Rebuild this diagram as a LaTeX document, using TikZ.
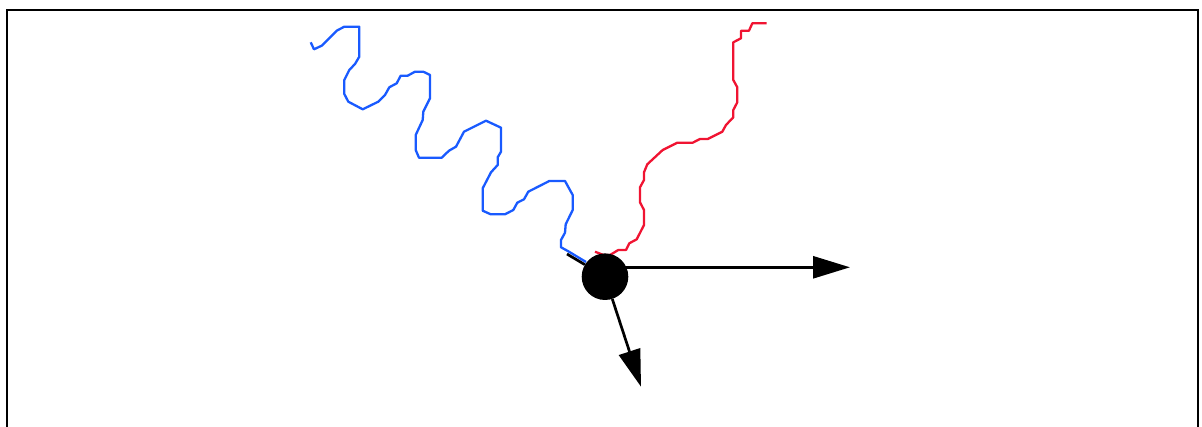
\documentclass[tikz,border=0pt]{standalone}
\usepackage{tikz}
\usetikzlibrary{arrows.meta, positioning}
\definecolor{wavyblue}{RGB}{25,90,255}
\definecolor{wavyred}{RGB}{240,20,50}

\begin{document}
\begin{tikzpicture}[x=1pt, y=-1pt,
        vec/.style={line width=2.7pt, -{Triangle[length=37pt, width=22pt]}},
        track/.style={line width=2.3pt, line join=round}]
            \useasboundingbox (0,0) rectangle (1202,427);
            \draw[line width=2.3pt] (7,432) -- (7,10) -- (1198,10) -- (1198,432);
            % blue wavy track
            \draw[track, wavyblue] (310.7,42.3) -- (314,49.3) -- (321.7,45.7) -- (336.7,30.7) -- (344.3,26.7) -- (359.3,26.7)
                -- (359.3,56.7) -- (355,64) -- (349.3,70) -- (344.3,80) -- (344.3,94) -- (348.3,101.7) -- (362.7,109.3)
                -- (378.3,101.7) -- (385,95) -- (389.3,87.3) -- (396.7,83.3) -- (400.7,75.7) -- (407.7,75.7) -- (415,71.7)
                -- (423.3,71.7) -- (430,75) -- (430,98.3) -- (423.3,111.7) -- (422.7,120) -- (415.7,135) -- (415.7,150)
                -- (419,157.7) -- (441.7,157.7) -- (449,150.7) -- (456,146.7) -- (464,131.7) -- (486,120.7) -- (501,127.7)
                -- (501,151.7) -- (497.7,157.3) -- (497.7,165) -- (491,172.3) -- (482.7,188.3) -- (482.7,210.7) -- (490.7,214.3)
                -- (505,214.3) -- (513.3,210) -- (517.3,202.7) -- (524,199.3) -- (528.3,191.7) -- (549.3,181) -- (565,181)
                -- (572.7,195) -- (572.7,210) -- (565.7,224.3) -- (565,232.7) -- (561,240) -- (561,247.3) -- (568.3,251.3)
                -- (586,262);
            % red wavy track
            \draw[track, wavyred] (766.7,23.3) -- (752.3,23.3) -- (749,30.7) -- (741,30.7) -- (741,38.3) -- (733.3,42.3)
                -- (733.3,80) -- (737.3,87.3) -- (737.3,102.3) -- (733.3,110) -- (733.3,117.3) -- (726,125) -- (722.3,131.7)
                -- (707.7,139) -- (700,139) -- (692.7,142.7) -- (677.3,142.7) -- (662.7,150) -- (647.3,164.3) -- (644,172.3)
                -- (644,180) -- (640,187.3) -- (640,202.3) -- (644,210) -- (644,225) -- (636.7,239.3) -- (629.3,243.3)
                -- (626,250) -- (618.3,250) -- (610,255) -- (603.3,255) -- (595,251.7);
            \node[circle, fill=black, inner sep=0pt, minimum size=46.6pt] (p) at (605,276.7) {};
            \coordinate (tail) at (567,254);
            \coordinate (ex) at (850,267.3);
            \coordinate (ey) at (641,386.7);
            \draw[line width=2.7pt] (tail) -- (p);
            \draw[vec] (p.center |- ex) -- (ex);
            \draw[vec] (p) -- (ey);
        \end{tikzpicture}
\end{document}
